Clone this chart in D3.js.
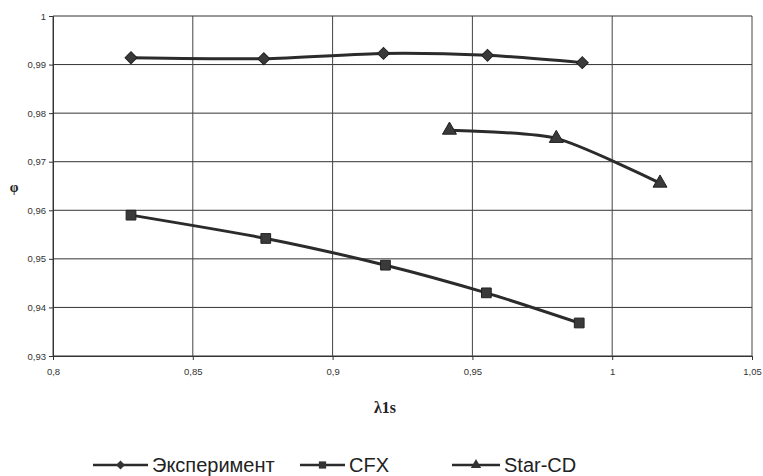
<!DOCTYPE html>
<html lang="ru">
<head>
<meta charset="UTF-8" />
<script src="https://d3js.org/d3.v7.min.js"></script>
<style>
	body { margin: 0; background: #fff; }
	svg { display: block; }
</style>
</head>
<body>
<script>
	var w = 763;
	var h = 476;

	// data
	var seriesNames = ["Эксперимент", "CFX", "Star-CD"];
	var expX = [0.8279, 0.8754, 0.9182, 0.9554, 0.9893];
	var expY = [0.9914, 0.9912, 0.9923, 0.9919, 0.9904];
	var cfxX = [0.8279, 0.8761, 0.9189, 0.9550, 0.9882];
	var cfxY = [0.9590, 0.9542, 0.9487, 0.9430, 0.9368];
	var starX = [0.9418, 0.9800, 1.0171];
	var starY = [0.9765, 0.9748, 0.9656];
	var xTicks = [0.8, 0.85, 0.9, 0.95, 1, 1.05];
	var yTicks = [0.93, 0.94, 0.95, 0.96, 0.97, 0.98, 0.99, 1];

	var plotLeft = 53, plotRight = 752, plotTop = 16, plotBottom = 356;

	var x = d3.scaleLinear().domain([0.8, 1.05]).range([plotLeft, plotRight]);
	var y = d3.scaleLinear().domain([0.93, 1]).range([plotBottom, plotTop]);

	var fmt = function (d) { return String(d).replace(".", ","); };

	var svg = d3.select("body").append("svg")
		.attr("width", w)
		.attr("height", h);

	// grid
	svg.append("g").selectAll("line").data(yTicks).enter().append("line")
		.attr("x1", plotLeft).attr("x2", plotRight)
		.attr("y1", function (d) { return y(d); })
		.attr("y2", function (d) { return y(d); })
		.attr("stroke", "#333").attr("stroke-width", 1);
	svg.append("g").selectAll("line").data(xTicks).enter().append("line")
		.attr("y1", plotTop).attr("y2", plotBottom)
		.attr("x1", function (d) { return x(d); })
		.attr("x2", function (d) { return x(d); })
		.attr("stroke", "#444").attr("stroke-width", 1);

	// axes
	svg.append("g")
		.attr("transform", "translate(" + plotLeft + ",0)")
		.call(d3.axisLeft(y).tickValues(yTicks).tickFormat(fmt).tickSize(4).tickPadding(3))
		.call(function (g) {
			g.select(".domain").attr("stroke", "#333");
			g.selectAll("line").attr("stroke", "#333");
			g.selectAll("text").attr("font-family", "Arial, 'Liberation Sans', sans-serif")
				.attr("font-size", "9.5px").attr("fill", "#333");
		});
	svg.append("g")
		.attr("transform", "translate(0," + plotBottom + ")")
		.call(d3.axisBottom(x).tickValues(xTicks).tickFormat(fmt).tickSize(4).tickPadding(8))
		.call(function (g) {
			g.select(".domain").attr("stroke", "#333");
			g.selectAll("line").attr("stroke", "#333");
			g.selectAll("text").attr("font-family", "Arial, 'Liberation Sans', sans-serif")
				.attr("font-size", "9.5px").attr("fill", "#333");
		});

	// axis titles
	svg.append("text")
		.attr("x", 385).attr("y", 413)
		.attr("text-anchor", "middle")
		.attr("font-family", "'Liberation Serif', 'DejaVu Serif', serif")
		.attr("font-size", "16px").attr("font-weight", "bold").attr("fill", "#222")
		.text("λ1s");
	svg.append("text")
		.attr("x", 14).attr("y", 192)
		.attr("text-anchor", "middle")
		.attr("font-family", "'Liberation Serif', 'DejaVu Serif', serif")
		.attr("font-size", "14px").attr("font-weight", "bold").attr("fill", "#222")
		.text("φ");

	var series = [
		{ name: seriesNames[0], xs: expX, ys: expY, mark: d3.symbolSquare, rot: 45, size: 72 },
		{ name: seriesNames[1], xs: cfxX, ys: cfxY, mark: d3.symbolSquare, rot: 0, size: 95 },
		{ name: seriesNames[2], xs: starX, ys: starY, mark: d3.symbolTriangle, rot: 0, size: 85 }
	];

	var line = d3.line()
		.x(function (d) { return x(d[0]); })
		.y(function (d) { return y(d[1]); })
		.curve(d3.curveCardinal.tension(0.3));

	series.forEach(function (s) {
		var pts = d3.zip(s.xs, s.ys);
		svg.append("path")
			.datum(pts)
			.attr("d", line)
			.attr("fill", "none")
			.attr("stroke", "#2b2b2b")
			.attr("stroke-width", 3);
		svg.append("g").selectAll("path").data(pts).enter().append("path")
			.attr("d", d3.symbol().type(s.mark).size(s.size))
			.attr("transform", function (d) {
				return "translate(" + x(d[0]) + "," + y(d[1]) + ") rotate(" + s.rot + ")";
			})
			.attr("fill", "#3a3a3a")
			.attr("stroke", "#222")
			.attr("stroke-width", 1);
	});

	// legend
	var legendX = [93, 300, 452];
	var legendW = [55, 45, 48];
	var lg = svg.append("g").selectAll("g").data(series).enter().append("g")
		.attr("transform", function (d, i) { return "translate(" + legendX[i] + ",465)"; });
	lg.append("line")
		.attr("x1", 0).attr("x2", function (d, i) { return legendW[i]; })
		.attr("y1", 0).attr("y2", 0)
		.attr("stroke", "#2b2b2b").attr("stroke-width", 2.5);
	lg.append("path")
		.attr("d", function (d) { return d3.symbol().type(d.mark).size(d.size * 0.55)(); })
		.attr("transform", function (d, i) { return "translate(" + legendW[i] / 2 + ",0) rotate(" + d.rot + ")"; })
		.attr("fill", "#333");
	lg.append("text")
		.attr("x", function (d, i) { return legendW[i] + 4; }).attr("y", 7)
		.attr("font-family", "'Liberation Sans Narrow', Arial, sans-serif")
		.attr("font-size", "20px").attr("fill", "#222")
		.text(function (d) { return d.name; });
</script>
</body>
</html>
